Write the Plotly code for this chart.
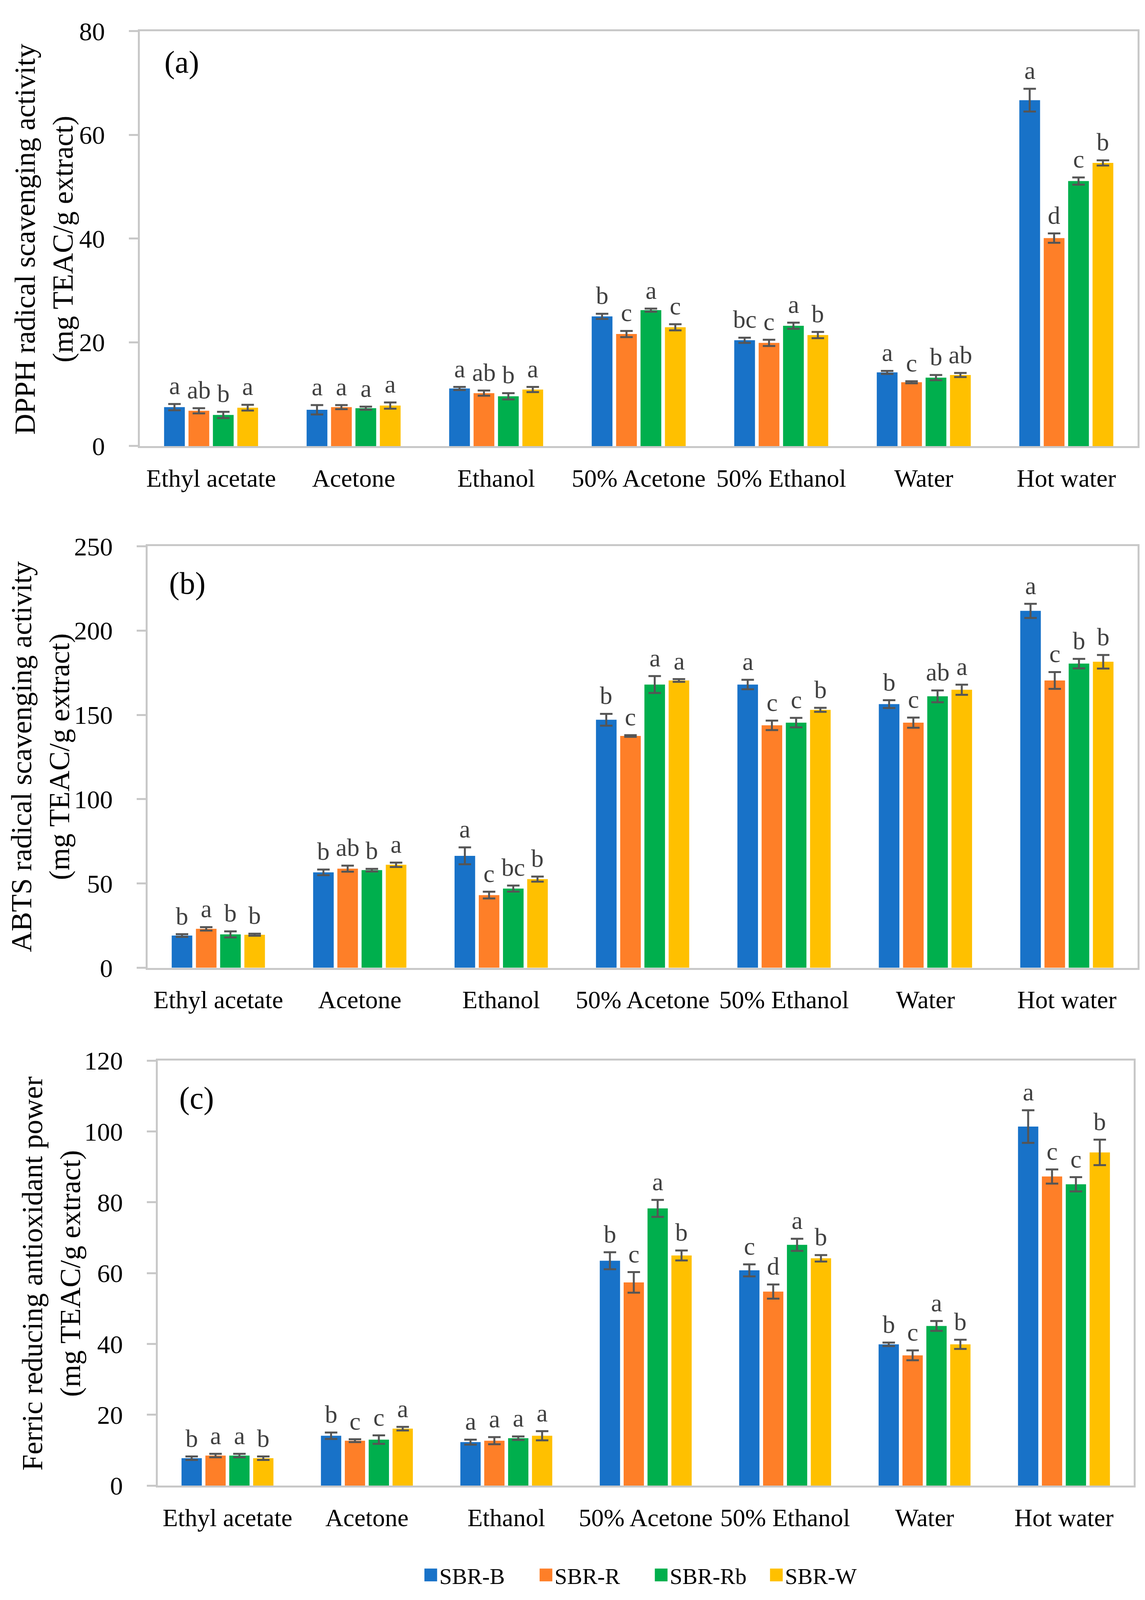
import plotly.graph_objects as go

categories = ["Ethyl acetate", "Acetone", "Ethanol", "50% Acetone", "50% Ethanol", "Water", "Hot water"]
series = ["SBR-B", "SBR-R", "SBR-Rb", "SBR-W"]
colors = ["#1872C8", "#FE7F28", "#00AF4D", "#FFC000"]

# (a) DPPH
dpph_B = [7.5, 7.0, 11.1, 25.0, 20.4, 14.2, 66.7]
dpph_R = [6.8, 7.5, 10.2, 21.6, 19.9, 12.3, 40.1]
dpph_Rb = [6.0, 7.3, 9.6, 26.2, 23.2, 13.2, 51.1]
dpph_W = [7.4, 7.8, 10.9, 22.9, 21.4, 13.7, 54.6]
dpph_err_B = [0.6, 0.9, 0.3, 0.5, 0.5, 0.3, 2.2]
dpph_err_R = [0.5, 0.4, 0.5, 0.6, 0.6, 0.2, 0.9]
dpph_err_Rb = [0.6, 0.3, 0.6, 0.3, 0.6, 0.5, 0.7]
dpph_err_W = [0.55, 0.6, 0.5, 0.6, 0.6, 0.4, 0.5]
dpph_let_B = ["a", "a", "a", "b", "bc", "a", "a"]
dpph_let_R = ["ab", "a", "ab", "c", "c", "c", "d"]
dpph_let_Rb = ["b", "a", "b", "a", "a", "b", "c"]
dpph_let_W = ["a", "a", "a", "c", "b", "ab", "b"]

# (b) ABTS
abts_B = [19.1, 56.6, 66.4, 147.1, 168.0, 156.4, 211.7]
abts_R = [23.1, 58.8, 43.1, 137.5, 143.8, 145.4, 170.4]
abts_Rb = [19.8, 57.9, 47.0, 168.0, 145.4, 161.0, 180.4]
abts_W = [19.6, 61.1, 52.6, 170.4, 153.0, 164.9, 181.5]
abts_err_B = [0.8, 1.7, 5.0, 3.5, 2.8, 2.3, 4.2]
abts_err_R = [1.0, 1.8, 2.0, 0.5, 2.8, 3.0, 5.0]
abts_err_Rb = [1.8, 0.8, 1.8, 5.0, 2.8, 3.5, 2.8]
abts_err_W = [0.6, 1.3, 1.5, 0.8, 1.2, 3.0, 4.0]
abts_let_B = ["b", "b", "a", "b", "a", "b", "a"]
abts_let_R = ["a", "ab", "c", "c", "c", "c", "c"]
abts_let_Rb = ["b", "b", "bc", "a", "c", "ab", "b"]
abts_let_W = ["b", "a", "b", "a", "b", "a", "b"]

# (c) FRAP
frap_B = [7.75, 14.1, 12.3, 63.5, 60.8, 39.9, 101.4]
frap_R = [8.5, 12.7, 12.7, 57.4, 54.8, 36.8, 87.3]
frap_Rb = [8.5, 13.0, 13.4, 78.3, 68.0, 45.1, 85.1]
frap_W = [7.75, 16.1, 14.1, 65.0, 64.2, 39.9, 94.1]
frap_err_B = [0.5, 0.9, 0.7, 2.4, 1.7, 0.5, 4.6]
frap_err_R = [0.5, 0.4, 1.0, 2.9, 2.0, 1.4, 2.0]
frap_err_Rb = [0.5, 1.2, 0.5, 2.4, 1.7, 1.4, 2.0]
frap_err_W = [0.5, 0.5, 1.3, 1.4, 0.9, 1.3, 3.6]
frap_let_B = ["b", "b", "a", "b", "c", "b", "a"]
frap_let_R = ["a", "c", "a", "c", "d", "c", "c"]
frap_let_Rb = ["a", "c", "a", "a", "a", "a", "c"]
frap_let_W = ["b", "a", "a", "b", "b", "b", "b"]

y_titles = ["DPPH radical scavenging activity<br>(mg TEAC/g extract)",
            "ABTS radical scavenging activity<br>(mg TEAC/g extract)",
            "Ferric reducing antioxidant power<br>(mg TEAC/g extract)"]
panel_labels = ["(a)", "(b)", "(c)"]
y_max = [80, 250, 120]
y_dtick = [20, 50, 20]

panels = [
    ([dpph_B, dpph_R, dpph_Rb, dpph_W], [dpph_err_B, dpph_err_R, dpph_err_Rb, dpph_err_W],
     [dpph_let_B, dpph_let_R, dpph_let_Rb, dpph_let_W]),
    ([abts_B, abts_R, abts_Rb, abts_W], [abts_err_B, abts_err_R, abts_err_Rb, abts_err_W],
     [abts_let_B, abts_let_R, abts_let_Rb, abts_let_W]),
    ([frap_B, frap_R, frap_Rb, frap_W], [frap_err_B, frap_err_R, frap_err_Rb, frap_err_W],
     [frap_let_B, frap_let_R, frap_let_Rb, frap_let_W]),
]

W, H = 2932, 4500
FONT = "Liberation Serif"
x_domains = [[358 / W, 2913 / W], [378 / W, 2913 / W], [404 / W, 2903 / W]]
y_domains = [[1 - 1237 / H, 1 - 49 / H], [1 - 2731 / H, 1 - 1524 / H], [1 - 4214 / H, 1 - 2997 / H]]
title_x = [112 / W, 103 / W, 131 / W]
title_y = [1 - 645 / H, 1 - 2127 / H, 1 - 3607 / H]
label_pos = [(0.042, 0.925), (0.040, 0.912), (0.040, 0.912)]

BARGAP = 0.315
BARGROUPGAP = 0.15
ERR_COLOR = "#555555"
AXIS_COLOR = "#C8C8C8"

fig = go.Figure()
annotations = []

for p, (vals, errs, lets) in enumerate(panels):
    sfx = "" if p == 0 else str(p + 1)
    xa, ya = "x" + sfx, "y" + sfx
    for i in range(4):
        fig.add_trace(go.Bar(
            x=categories, y=vals[i], name=series[i], marker_color=colors[i],
            marker_line_width=0,
            error_y=dict(type="data", array=errs[i], color=ERR_COLOR, thickness=5, width=16),
            xaxis=xa, yaxis=ya, showlegend=False))
    plot_w = (x_domains[p][1] - x_domains[p][0]) * W
    slot = plot_w / len(categories) * (1 - BARGAP) / 4
    for i in range(4):
        for j, c in enumerate(categories):
            annotations.append(dict(
                x=c, y=vals[i][j] + errs[i][j], xref=xa, yref=ya,
                xshift=(i - 1.5) * slot, yshift=9, yanchor="bottom", xanchor="center",
                text=lets[i][j], showarrow=False,
                font=dict(family=FONT, size=64, color="#404040")))
    annotations.append(dict(
        x=title_x[p], y=title_y[p], xref="paper", yref="paper", textangle=-90,
        xanchor="center", yanchor="middle", text=y_titles[p], showarrow=False,
        font=dict(family=FONT, size=74, color="#000000")))
    annotations.append(dict(
        x=label_pos[p][0], y=label_pos[p][1], xref=xa + " domain", yref=ya + " domain",
        xanchor="center", yanchor="middle", text=panel_labels[p], showarrow=False,
        font=dict(family=FONT, size=80, color="#000000")))

    fig.update_layout({
        "xaxis" + sfx: dict(domain=x_domains[p], anchor=ya, type="category",
                            categoryorder="array", categoryarray=categories,
                            showline=True, linecolor=AXIS_COLOR, linewidth=5, mirror=True,
                            ticks="", showgrid=False, zeroline=False,
                            tickfont=dict(family=FONT, size=64, color="#000000"),
                            ticklabelstandoff=22),
        "yaxis" + sfx: dict(domain=y_domains[p], anchor=xa, range=[0, y_max[p]],
                            dtick=y_dtick[p], tick0=0,
                            showline=True, linecolor=AXIS_COLOR, linewidth=5, mirror=True,
                            ticks="outside", ticklen=23, tickwidth=5, tickcolor=AXIS_COLOR,
                            showgrid=False, zeroline=False,
                            tickfont=dict(family=FONT, size=66, color="#000000"),
                            ticklabelstandoff=48),
    })

# legend entries
for i in range(4):
    fig.add_trace(go.Scatter(
        x=[None], y=[None], mode="markers", name=series[i],
        marker=dict(symbol="square", size=16, color=colors[i],
                    line=dict(color=colors[i], width=5)),
        xaxis="x3", yaxis="y3", showlegend=True))

fig.update_layout(
    autosize=True,
    margin=dict(l=0, r=0, t=0, b=0),
    paper_bgcolor="white", plot_bgcolor="white",
    barmode="group", bargap=BARGAP, bargroupgap=BARGROUPGAP,
    annotations=annotations,
    showlegend=True,
    legend=dict(orientation="h", x=0.5713, xanchor="center", y=1 - 4470 / H, yanchor="middle",
                font=dict(family=FONT, size=58, color="#000000"),
                entrywidth=250, entrywidthmode="pixels", itemwidth=30,
                bgcolor="rgba(0,0,0,0)"),
    font=dict(family=FONT),
)

post = ("var st=document.createElement('style');"
        "st.textContent='html,body{margin:0;padding:0;overflow:hidden;}"
        ".legend .scatterpts{transform:translate(18px,0px) scale(1.55);}';"
        "document.head.appendChild(st);"
        "var gd=document.getElementById('{plot_id}');"
        "gd.style.width='100vw';gd.style.height='100vh';"
        "Plotly.Plots.resize(gd);")

fig.write_html("out.html", default_width="100vw", default_height="100vh",
               config={"responsive": True, "displayModeBar": False}, post_script=post)
